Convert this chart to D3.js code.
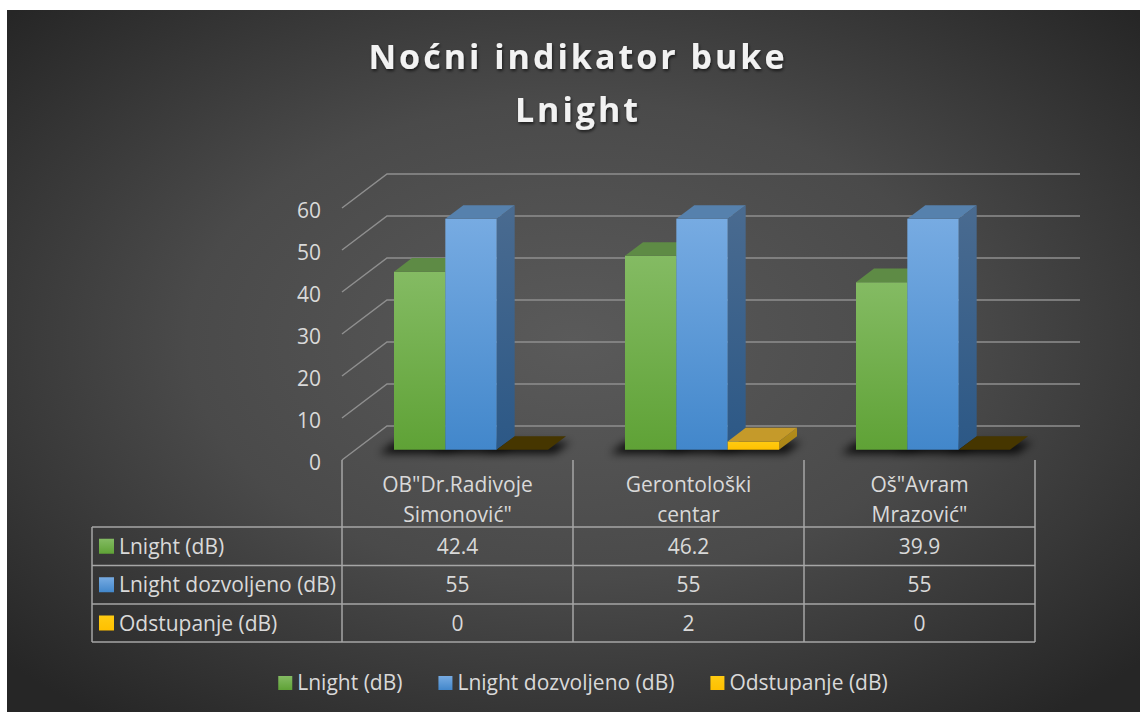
<!DOCTYPE html>
<html>
<head>
<meta charset="utf-8">
<script src="https://cdn.jsdelivr.net/npm/d3@7"></script>
<style>
body { margin: 0; background: #fff; }
svg text { font-family: "Open Sans", sans-serif; }
</style>
</head>
<body>
<div id="chart"></div>
<script>
// data
var categories = ['OB"Dr.Radivoje Simonović"', 'Gerontološki centar', 'Oš"Avram Mrazović"'];
var categoryLines = [['OB"Dr.Radivoje', 'Simonović"'], ['Gerontološki', 'centar'], ['Oš"Avram', 'Mrazović"']];
var seriesNames = ["Lnight (dB)", "Lnight dozvoljeno (dB)", "Odstupanje (dB)"];
var lnight = [42.4, 46.2, 39.9];
var dozvoljeno = [55, 55, 55];
var odstupanje = [0, 2, 0];
var yTicks = [0, 10, 20, 30, 40, 50, 60];
var titleLines = ["Noćni indikator buke", "Lnight"];

var svgWidth = 1140;
var svgHeight = 712;
var fontSize = 21;

// colours per series: front top, front bottom, top face, side top, side bottom
var colors = [
    { ft: "#84bb63", fb: "#5fa236", top: "#5e8b45", st: "#55803c", sb: "#426e2a" },
    { ft: "#77abe2", fb: "#4287cb", top: "#5681ad", st: "#4a6b90", sb: "#2c5886" },
    { ft: "#ffcb12", fb: "#ffc000", top: "#c59a2a", st: "#b58d1c", sb: "#a88416" }
];

var svg = d3.select("#chart")
    .append("svg")
    .attr("width", svgWidth)
    .attr("height", svgHeight);

var defs = svg.append("defs");

var bg = defs.append("radialGradient")
    .attr("id", "bg")
    .attr("cx", "50%").attr("cy", "47%").attr("r", "68%");
bg.append("stop").attr("offset", "0%").attr("stop-color", "#5a5a5a");
bg.append("stop").attr("offset", "50%").attr("stop-color", "#4a4a4a");
bg.append("stop").attr("offset", "100%").attr("stop-color", "#262626");

colors.forEach(function (c, i) {
    var g = defs.append("linearGradient").attr("id", "front" + i)
        .attr("x1", 0).attr("y1", 0).attr("x2", 0).attr("y2", 1);
    g.append("stop").attr("offset", "0%").attr("stop-color", c.ft);
    g.append("stop").attr("offset", "100%").attr("stop-color", c.fb);
    var s = defs.append("linearGradient").attr("id", "side" + i)
        .attr("x1", 0).attr("y1", 0).attr("x2", 0).attr("y2", 1);
    s.append("stop").attr("offset", "0%").attr("stop-color", c.st);
    s.append("stop").attr("offset", "100%").attr("stop-color", c.sb);
});

defs.append("filter").attr("id", "blur")
    .attr("x", "-50%").attr("y", "-200%").attr("width", "200%").attr("height", "500%")
    .append("feGaussianBlur").attr("stdDeviation", 4);

var ts = defs.append("filter").attr("id", "tshadow")
    .attr("x", "-10%").attr("y", "-30%").attr("width", "120%").attr("height", "160%");
ts.append("feDropShadow").attr("dx", 1).attr("dy", 2).attr("stdDeviation", 1.5)
    .attr("flood-color", "#000").attr("flood-opacity", 0.6);

// background
svg.append("rect").attr("x", 7).attr("y", 10)
    .attr("width", svgWidth - 7).attr("height", svgHeight - 10)
    .attr("fill", "url(#bg)");

// title
svg.append("g").selectAll("text")
    .data(titleLines)
    .enter()
    .append("text")
    .attr("x", 578)
    .attr("y", (d, i) => 69 + i * 53)
    .attr("text-anchor", "middle")
    .attr("font-size", 34)
    .attr("font-weight", "bold")
    .attr("letter-spacing", 3)
    .attr("fill", "#f2f2f2")
    .attr("filter", "url(#tshadow)")
    .text(d => d);

// scales (front plane) + depth vector for the 3d look
var x0 = d3.scaleBand().domain(categories).range([342, 1035]);
var x1 = d3.scaleBand().domain(seriesNames).range([0, x0.bandwidth()]).paddingOuter(0.75);
var y = d3.scaleLinear().domain([0, 60]).range([460, 208]);
var depth = { dx: 45, dy: -34 };
var barFront = 0.3, barBack = 0.7;

function pt(x, v, f) {
    return [x + f * depth.dx, y(v) + f * depth.dy];
}
function poly(p) {
    return p.map(d => d.join(",")).join(" ");
}

// gridlines: side wall diagonal + back wall
var xEnd = x0.range()[1];
var xStart = x0.range()[0];
svg.append("g").selectAll("path")
    .data(yTicks)
    .enter()
    .append("path")
    .attr("d", function (t) {
        var a = pt(xStart, t, 0), b = pt(xStart, t, 1), c = pt(xEnd, t, 1);
        return "M" + a + "L" + b + "L" + c;
    })
    .attr("fill", "none")
    .attr("stroke", "#8f8f8f")
    .attr("stroke-width", 1.5);

// y labels
svg.append("g").selectAll("text")
    .data(yTicks)
    .enter()
    .append("text")
    .attr("x", 321)
    .attr("y", t => y(t) + 2)
    .attr("dy", "0.36em")
    .attr("text-anchor", "end")
    .attr("font-size", fontSize)
    .attr("fill", "#d9d9d9")
    .text(t => t);

var rows = categories.map(function (c, i) {
    return { cat: c, values: [lnight[i], dozvoljeno[i], odstupanje[i]] };
});

var bars = [];
rows.forEach(function (r) {
    r.values.forEach(function (v, j) {
        bars.push({ cat: r.cat, s: j, v: v, x: x0(r.cat) + x1(seriesNames[j]), w: x1.bandwidth() });
    });
});

// floor shadows
svg.append("g").attr("filter", "url(#blur)").selectAll("polygon")
    .data(bars)
    .enter()
    .append("polygon")
    .attr("points", function (d) {
        var p = [pt(d.x - 14, 0, 0.28), pt(d.x + d.w + 8, 0, 0.28), pt(d.x + d.w + 8, 0, 0.62), pt(d.x - 14, 0, 0.62)];
        return poly(p.map(q => [q[0], q[1] + 3]));
    })
    .attr("fill", "#000")
    .attr("opacity", 0.85);

// bars
var barG = svg.append("g").selectAll("g")
    .data(bars)
    .enter()
    .append("g");

barG.append("polygon")
    .attr("points", d => poly([pt(d.x + d.w, 0, barFront), pt(d.x + d.w, d.v, barFront), pt(d.x + d.w, d.v, barBack), pt(d.x + d.w, 0, barBack)]))
    .attr("fill", d => "url(#side" + d.s + ")");

barG.append("polygon")
    .attr("points", d => poly([pt(d.x, 0, barFront), pt(d.x + d.w, 0, barFront), pt(d.x + d.w, d.v, barFront), pt(d.x, d.v, barFront)]))
    .attr("fill", d => "url(#front" + d.s + ")");

barG.append("polygon")
    .attr("points", d => poly([pt(d.x, d.v, barFront), pt(d.x + d.w, d.v, barFront), pt(d.x + d.w, d.v, barBack), pt(d.x, d.v, barBack)]))
    .attr("fill", d => d.v === 0 ? "#463600" : colors[d.s].top);

// data table
var tableLeft = 92;
var headTop = 460;
var rowTops = [527, 565.5, 604, 642];
var lineColor = "#a6a6a6";
var tbl = svg.append("g");

tbl.selectAll(".hline")
    .data(rowTops)
    .enter()
    .append("line")
    .attr("x1", tableLeft).attr("x2", xEnd)
    .attr("y1", d => d).attr("y2", d => d)
    .attr("stroke", lineColor).attr("stroke-width", 1.5);

tbl.selectAll(".vline")
    .data(categories.map(c => x0(c)).concat([xEnd]))
    .enter()
    .append("line")
    .attr("x1", d => d).attr("x2", d => d)
    .attr("y1", headTop).attr("y2", rowTops[3])
    .attr("stroke", lineColor).attr("stroke-width", 1.5);

tbl.append("line")
    .attr("x1", tableLeft).attr("x2", tableLeft)
    .attr("y1", rowTops[0]).attr("y2", rowTops[3])
    .attr("stroke", lineColor).attr("stroke-width", 1.5);

// header (category labels)
categoryLines.forEach(function (lines, i) {
    tbl.selectAll(".h" + i)
        .data(lines)
        .enter()
        .append("text")
        .attr("x", x0(categories[i]) + x0.bandwidth() / 2)
        .attr("y", (d, k) => 492 + k * 30)
        .attr("text-anchor", "middle")
        .attr("font-size", fontSize)
        .attr("fill", "#d9d9d9")
        .text(d => d);
});

var seriesData = [lnight, dozvoljeno, odstupanje];
seriesNames.forEach(function (name, j) {
    var mid = (rowTops[j] + rowTops[j + 1]) / 2;
    tbl.append("rect")
        .attr("x", 99).attr("y", mid - 7.5)
        .attr("width", 15).attr("height", 15)
        .attr("fill", "url(#front" + j + ")");
    tbl.append("text")
        .attr("x", 119).attr("y", mid + 7.5)
        .attr("font-size", fontSize)
        .attr("fill", "#d9d9d9")
        .text(name);
    tbl.selectAll(".c" + j)
        .data(seriesData[j])
        .enter()
        .append("text")
        .attr("x", (d, i) => x0(categories[i]) + x0.bandwidth() / 2)
        .attr("y", mid + 7.5)
        .attr("text-anchor", "middle")
        .attr("font-size", fontSize)
        .attr("fill", "#d9d9d9")
        .text(d => d);
});

// legend at the bottom
var legend = svg.append("g");
var items = legend.selectAll("g")
    .data(seriesNames)
    .enter()
    .append("g");
items.append("rect")
    .attr("y", 676).attr("width", 14).attr("height", 14)
    .attr("fill", (d, j) => "url(#front" + j + ")");
items.append("text")
    .attr("x", 19).attr("y", 690)
    .attr("font-size", fontSize)
    .attr("fill", "#d9d9d9")
    .text(d => d);

var xpos = 0;
var offsets = [];
items.each(function () {
    offsets.push(xpos);
    xpos += 19 + this.querySelector("text").getComputedTextLength() + 36;
});
var total = xpos - 36;
var lx = 583 - total / 2;
items.attr("transform", (d, j) => "translate(" + (lx + offsets[j]) + ",0)");
</script>
</body>
</html>
